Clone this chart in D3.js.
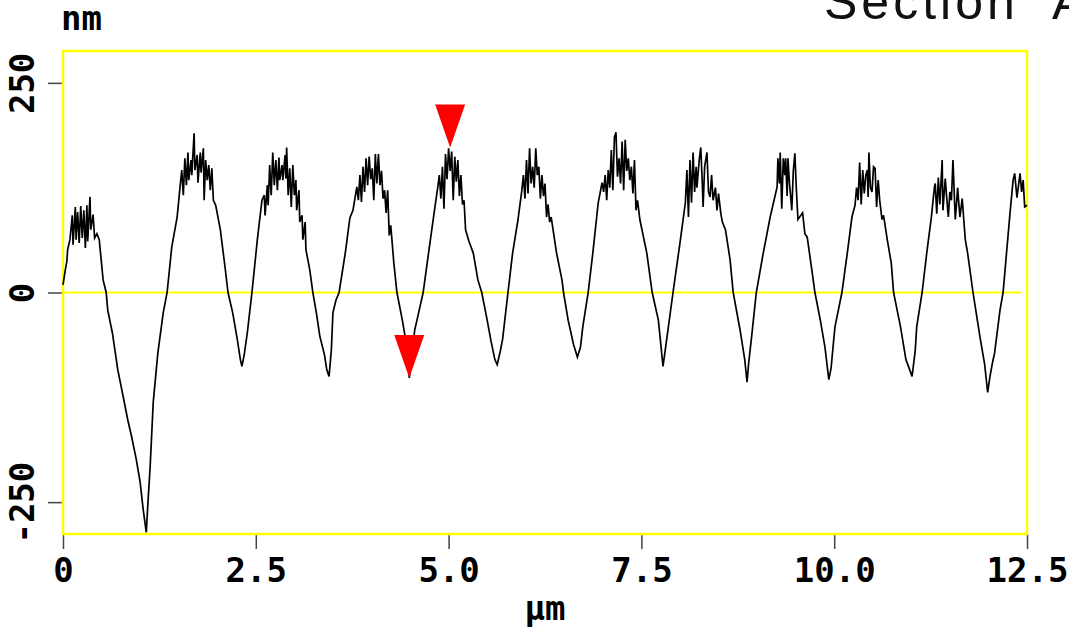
<!DOCTYPE html>
<html>
<head>
<meta charset="utf-8">
<script src="https://cdn.jsdelivr.net/npm/d3@7"></script>
<style>
  body { margin: 0; background: #fff; }
  .tick text { font-family: "DejaVu Sans Mono", monospace; font-weight: bold; font-size: 34px; fill: #000; }
  .unit { font-family: "DejaVu Sans Mono", monospace; font-weight: bold; font-size: 34px; fill: #000; }
</style>
</head>
<body>
<div id="chart"></div>
<script>
// section profile: [position (um), height (nm)]
var profile = [
  [0,9],[0.03,27],[0.05,37],[0.06,51],[0.09,63],
  [0.12,92],[0.13,57],[0.16,102],[0.17,63],[0.19,96],[0.21,59],[0.23,103],[0.25,65],[0.27,98],[0.29,53],[0.31,104],[0.32,61],[0.35,114],[0.36,75],[0.39,93],[0.41,65],[0.44,70],[0.47,63],
  [0.52,15],[0.56,0],[0.58,-21],[0.64,-48],[0.71,-92],[0.78,-124],[0.84,-152],[0.89,-172],[0.95,-199],[1.00,-226],[1.04,-259],[1.08,-286],[1.10,-253],[1.13,-208],[1.17,-131],[1.23,-72],[1.30,-24],[1.35,0],[1.41,54],[1.48,90],[1.52,128],
  [1.54,146],[1.56,116],[1.58,160],[1.60,128],[1.62,167],[1.63,134],[1.66,158],[1.67,140],[1.70,190],[1.71,146],[1.74,164],[1.75,131],[1.78,167],[1.79,143],[1.82,172],[1.83,110],[1.85,158],[1.87,134],[1.89,152],[1.91,122],[1.93,148],[1.95,110],
  [1.98,104],[2.04,75],[2.10,31],[2.14,0],[2.20,-24],[2.26,-56],[2.30,-80],[2.32,-88],[2.35,-74],[2.39,-48],[2.45,0],[2.52,63],[2.58,110],
  [2.61,116],[2.62,92],[2.65,128],[2.66,104],[2.68,152],[2.70,116],[2.72,167],[2.74,128],[2.76,158],[2.78,122],[2.80,161],[2.81,134],[2.84,152],[2.85,134],[2.88,164],[2.89,136],[2.90,173],[2.92,116],[2.94,148],[2.96,102],[2.98,152],[3.00,116],[3.02,134],[3.03,98],[3.06,122],[3.07,84],[3.10,92],[3.11,63],[3.14,84],[3.15,51],
  [3.20,27],[3.24,0],[3.29,-27],[3.33,-52],[3.39,-74],[3.42,-92],[3.45,-100],[3.48,-68],[3.50,-24],[3.54,-9],[3.58,0],[3.66,47],[3.72,89],[3.76,98],[3.81,126],
  [3.83,110],[3.85,140],[3.87,108],[3.89,150],[3.91,120],[3.93,160],[3.95,128],[3.97,162],[3.99,135],[4.01,148],[4.03,110],[4.05,165],[4.07,130],[4.09,165],[4.11,128],[4.13,145],[4.15,112],[4.17,122],[4.19,95],[4.21,122],[4.23,68],[4.25,80],
  [4.29,35],[4.33,0],[4.40,-33],[4.46,-65],[4.49,-102],[4.52,-80],[4.56,-45],[4.59,-33],[4.67,0],[4.74,47],[4.80,87],[4.86,126],
  [4.88,140],[4.90,112],[4.92,150],[4.94,100],[4.96,165],[4.98,135],[5.00,172],[5.02,145],[5.04,168],[5.06,110],[5.08,162],[5.10,132],[5.12,158],[5.14,115],[5.16,140],[5.18,105],[5.20,110],[5.22,75],
  [5.26,62],[5.32,47],[5.38,15],[5.43,0],[5.50,-33],[5.55,-58],[5.60,-80],[5.63,-86],[5.67,-70],[5.70,-56],[5.77,0],[5.83,47],[5.90,87],[5.95,122],
  [5.97,140],[5.99,112],[6.01,158],[6.03,118],[6.05,172],[6.07,130],[6.09,150],[6.11,125],[6.13,172],[6.15,140],[6.17,150],[6.19,112],[6.21,140],[6.23,115],[6.25,130],[6.27,90],[6.29,105],[6.31,84],[6.33,90],
  [6.40,47],[6.47,15],[6.49,0],[6.55,-33],[6.62,-62],[6.67,-77],[6.71,-65],[6.74,-41],[6.81,0],[6.87,47],[6.94,107],[6.99,131],
  [7.01,120],[7.03,140],[7.05,110],[7.07,146],[7.09,125],[7.11,170],[7.13,122],[7.15,185],[7.17,191],[7.19,138],[7.21,160],[7.23,130],[7.25,180],[7.27,122],[7.29,182],[7.31,145],[7.33,160],[7.35,134],[7.37,150],[7.39,118],[7.41,158],[7.43,98],[7.45,110],
  [7.48,87],[7.57,47],[7.64,0],[7.72,-33],[7.78,-88],[7.81,-68],[7.85,-41],[7.91,0],[8.00,59],[8.07,107],
  [8.09,146],[8.11,90],[8.13,158],[8.15,107],[8.17,167],[8.19,120],[8.21,150],[8.22,125],[8.25,158],[8.27,173],[8.29,130],[8.30,102],[8.32,150],[8.35,167],[8.37,120],[8.39,114],[8.41,140],[8.43,110],[8.46,125],[8.48,98],[8.50,118],[8.53,94],[8.55,84],
  [8.59,75],[8.65,39],[8.69,0],[8.78,-45],[8.84,-80],[8.87,-107],[8.89,-85],[8.93,-52],[8.99,0],[9.08,47],[9.17,90],[9.26,126],
  [9.27,160],[9.29,130],[9.30,167],[9.32,100],[9.34,160],[9.36,140],[9.37,160],[9.39,115],[9.40,160],[9.42,130],[9.44,110],[9.45,98],[9.47,145],[9.49,166],[9.51,122],[9.53,87],
  [9.59,95],[9.62,70],[9.65,66],[9.71,27],[9.75,0],[9.82,-33],[9.88,-65],[9.93,-104],[9.96,-90],[9.99,-60],[10.01,-41],[10.10,0],[10.17,47],[10.23,90],
  [10.27,104],[10.29,125],[10.31,110],[10.33,155],[10.35,105],[10.37,146],[10.39,118],[10.41,140],[10.43,146],[10.44,114],[10.45,167],[10.47,125],[10.49,120],[10.51,150],[10.53,148],[10.55,102],[10.57,134],[10.59,110],[10.62,87],[10.64,92],
  [10.69,62],[10.74,35],[10.77,0],[10.86,-41],[10.93,-80],[10.99,-95],[11.01,-100],[11.05,-70],[11.07,-41],[11.14,0],[11.20,47],[11.26,90],[11.30,126],
  [11.31,130],[11.33,94],[11.35,137],[11.37,105],[11.40,158],[11.41,98],[11.44,136],[11.46,112],[11.48,90],[11.50,120],[11.52,110],[11.54,158],[11.57,87],[11.59,110],[11.60,125],[11.63,90],[11.66,112],[11.68,87],[11.70,63],
  [11.73,47],[11.80,0],[11.89,-53],[11.95,-85],[11.99,-119],[12.02,-100],[12.05,-85],[12.08,-72],[12.15,-21],[12.19,0],[12.28,95],[12.32,134],
  [12.34,142],[12.37,113],[12.39,128],[12.41,142],[12.43,120],[12.45,134],[12.47,102],[12.50,104]
];

var xTicks = [0, 2.5, 5, 7.5, 10, 12.5];
var xTickLabels = ["0", "2.5", "5.0", "7.5", "10.0", "12.5"];
var yTicks = [-250, 0, 250];
var yTickLabels = ["-250", "0", "250"];

// the two red section cursors
var cursorUm = [4.49, 5.02];
var cursorNm = [-102, 173];

var svgWidth = 1069;
var svgHeight = 631;

var margin = {
  top: 51,
  right: 42,
  bottom: 97,
  left: 63
};

var width = svgWidth - margin.left - margin.right;
var height = svgHeight - margin.top - margin.bottom;

var svg = d3.select("#chart")
  .append("svg")
  .attr("width", svgWidth)
  .attr("height", svgHeight)
  .style("display", "block");

svg.append("rect")
  .attr("width", svgWidth)
  .attr("height", svgHeight)
  .attr("fill", "#fff");

var chartGroup = svg.append("g")
  .attr("transform", `translate(${margin.left}, ${margin.top})`);

var xScale = d3.scaleLinear()
  .domain([0, 12.5])
  .range([0, width]);

var yScale = d3.scaleLinear()
  .domain([-288, 288])
  .range([height, 0]);

// axes
var bottomAxis = d3.axisBottom(xScale)
  .tickValues(xTicks)
  .tickSize(15)
  .tickFormat((d, i) => xTickLabels[i]);

var leftAxis = d3.axisLeft(yScale)
  .tickValues(yTicks)
  .tickSize(15)
  .tickFormat((d, i) => yTickLabels[i]);

var gx = chartGroup.append("g")
  .attr("transform", `translate(0, ${height})`)
  .call(bottomAxis);
gx.select(".domain").remove();
gx.selectAll(".tick line").attr("stroke", "#444").attr("stroke-width", 1.5);
gx.selectAll(".tick text").attr("y", 48).attr("dy", 0);

var gy = chartGroup.append("g")
  .call(leftAxis);
gy.select(".domain").remove();
gy.selectAll(".tick line").attr("stroke", "#444").attr("stroke-width", 1.5);
gy.selectAll(".tick text")
  .attr("x", 0)
  .attr("dy", "0.36em")
  .attr("text-anchor", "middle")
  .attr("transform", "translate(-41,0) rotate(-90)");

// yellow frame and zero line
chartGroup.append("rect")
  .attr("width", width)
  .attr("height", height)
  .attr("fill", "none")
  .attr("stroke", "#ffff00")
  .attr("stroke-width", 2.5);

chartGroup.append("line")
  .attr("x1", 0)
  .attr("x2", width - 5)
  .attr("y1", yScale(0))
  .attr("y2", yScale(0))
  .attr("stroke", "#ffff00")
  .attr("stroke-width", 2);

// profile trace
var line = d3.line()
  .x(d => xScale(d[0]))
  .y(d => yScale(d[1]));

chartGroup.append("path")
  .datum(profile)
  .attr("d", line)
  .attr("fill", "none")
  .attr("stroke", "#000")
  .attr("stroke-width", 1.7)
  .attr("stroke-linejoin", "miter");

// cursors
chartGroup.selectAll(".cursor")
  .data(cursorUm)
  .enter()
  .append("path")
  .attr("class", "cursor")
  .attr("fill", "#ff0000")
  .attr("d", function(d, i) {
    var cx = xScale(d), cy = yScale(cursorNm[i]);
    return `M${cx - 15},${cy - 43}L${cx + 15},${cy - 43}L${cx},${cy}Z`;
  });

// unit labels and title
svg.append("text")
  .attr("class", "unit")
  .attr("x", 61)
  .attr("y", 30)
  .text("nm");

svg.append("text")
  .attr("class", "unit")
  .attr("x", margin.left + width / 2)
  .attr("y", 620)
  .attr("text-anchor", "middle")
  .text("μm");

svg.append("text")
  .attr("x", 824)
  .attr("y", 19)
  .attr("font-family", "Liberation Sans, sans-serif")
  .attr("font-size", 50)
  .attr("letter-spacing", 4)
  .attr("word-spacing", 18)
  .attr("fill", "#111")
  .text("Section A");
</script>
</body>
</html>
